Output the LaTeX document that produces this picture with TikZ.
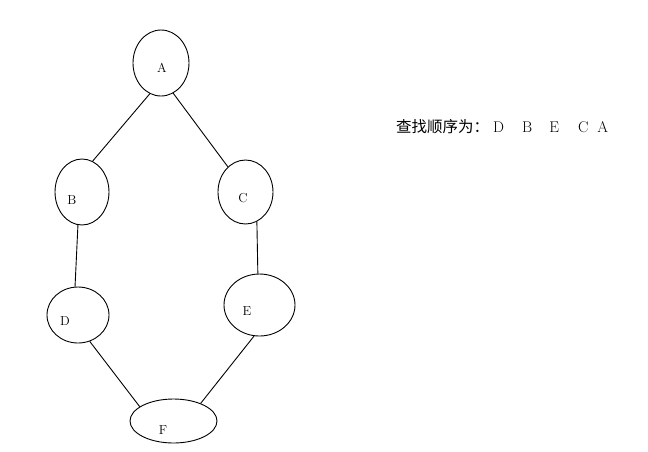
\documentclass[tikz,border=0pt]{standalone}
\usepackage{fontspec}
\newfontfamily\cjk{Noto Sans CJK SC}
\usetikzlibrary{shapes.geometric}
\begin{document}
\begin{tikzpicture}[x=1pt,y=-1pt,
  vert/.style={draw,ellipse,inner sep=0pt,line width=0.9pt},
  lab/.style={inner sep=0pt,font=\fontsize{13}{13}\selectfont},
  edge/.style={line width=0.9pt}]
\useasboundingbox[fill=white] (0,0) rectangle (648,451);
\node[vert,minimum width=56,minimum height=66] (A) at (161,63) {};
\node[vert,minimum width=54,minimum height=66] (B) at (82,192) {};
\node[vert,minimum width=55,minimum height=64] (C) at (245.5,192) {};
\node[vert,minimum width=62,minimum height=56] (D) at (78,315) {};
\node[vert,minimum width=71,minimum height=62] (E) at (259.5,305) {};
\node[vert,minimum width=87,minimum height=44] (F) at (173.5,421) {};
\node[lab] (la) at (162,68) {A};
\node[lab] (lb) at (72,200) {B};
\node[lab] (lc) at (243,198) {C};
\node[lab] (ld) at (65,321) {D};
\node[lab] (le) at (247,311) {E};
\node[lab] (lf) at (163,430) {F};
\draw[edge] (A.250) -- (B.71);
\draw[edge] (A.292) -- (C.125);
\draw[edge] (B.263) -- (D.96);
\draw[edge] (C.291) -- (E.93);
\draw[edge] (D.294) -- (F.157);
\draw[edge] (E.260) -- (F.33);
\node[anchor=west,inner sep=0pt,font=\fontsize{15.5}{15.5}\selectfont] (seq) at (396,127)
  {\cjk 查找顺序为：\hspace{4pt}\rmfamily D\hspace{18pt}B\hspace{17pt}E\hspace{19pt}C\hspace{9pt}A};
\end{tikzpicture}
\end{document}
